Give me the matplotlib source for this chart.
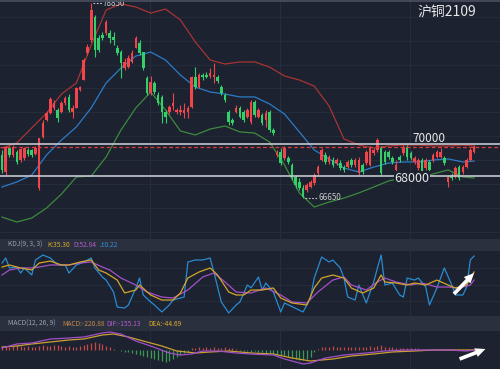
import numpy as np
import matplotlib
matplotlib.use('Agg')
from matplotlib import pyplot as plt

plt.rcParams['font.family'] = ['Noto Sans CJK SC', 'DejaVu Sans']

# ---- candles (沪铜2109) ----
opens = [69340, 68270, 69770, 69340, 69520, 69020, 69150, 69650, 69650, 69400,
         67270, 70460, 71530, 71960, 72280, 72150, 72030, 72590, 72970, 72030,
         72280, 73400, 74030, 75720, 76530, 77970, 76660, 76850, 76970, 76970,
         76720, 76030, 75780, 74780, 74840, 75160, 76030, 76350, 75780, 74160,
         73220, 73840, 73090, 72970, 72030, 72030, 72400, 72030, 72030, 71960,
         72030, 72340, 74220, 73590, 74340, 74340, 74280, 74220, 74220, 73590,
         73090, 72030, 71530, 72030, 72280, 72030, 71710, 71400, 72650, 71710,
         71840, 71530, 72030, 70900, 69340, 69520, 69150, 69150, 68710, 67960,
         67650, 67270, 67140, 67330, 67580, 68210, 69020, 69340, 68900, 69020,
         68830, 68830, 68580, 68580, 69020, 68710, 68210, 68710, 68830, 68710,
         69460, 69650, 69770, 69520, 69520, 69150, 68400, 69210, 69460, 69840,
         69460, 68900, 68520, 69020, 68520, 68900, 69020, 69210, 69210, 69150,
         67650, 68080, 67960, 68580, 68270, 68580, 69020, 69520]
highs = [69650, 69900, 69900, 69960, 69650, 69770, 69840, 69770, 69710, 69900,
         70400, 71530, 72090, 72970, 72780, 72280, 72720, 73030, 73150, 72470,
         73590, 73650, 75410, 76280, 78850, 78100, 76850, 77030, 77790, 77160,
         77030, 76220, 75910, 75410, 75600, 75910, 76780, 76530, 75780, 74280,
         74280, 73970, 73280, 73090, 72150, 72470, 73220, 72280, 72470, 72590,
         72400, 74280, 74840, 74470, 74470, 74530, 74780, 75090, 74340, 73720,
         73220, 72150, 71650, 72470, 72400, 72150, 72280, 72780, 72780, 72280,
         71960, 72150, 72150, 71030, 69650, 69770, 69900, 69270, 68830, 68080,
         67900, 67460, 67580, 67770, 68210, 68710, 69770, 69520, 69340, 69210,
         69150, 69020, 68710, 69020, 69150, 69150, 69210, 68830, 69650, 69900,
         69770, 70400, 69900, 69650, 69650, 69270, 69020, 69340, 69960, 69960,
         69590, 69270, 69150, 69150, 69150, 69020, 69460, 69650, 69770, 69270,
         68080, 68210, 68650, 68710, 68710, 69150, 69770, 69960]
lows = [68210, 68080, 69210, 69210, 68770, 68900, 69020, 69270, 69210, 69340,
        67140, 70400, 71460, 71900, 72150, 71400, 71960, 72470, 72030, 71650,
        72280, 73340, 74030, 75600, 76410, 75470, 75780, 76530, 76850, 76350,
        76220, 75600, 74160, 74660, 74780, 75090, 76030, 75600, 74660, 73090,
        73090, 73150, 72470, 71340, 71340, 71900, 72150, 71900, 71840, 71650,
        71650, 72280, 73470, 73530, 74030, 74160, 74160, 73840, 73840, 73090,
        72650, 71210, 71210, 71960, 71650, 71400, 71650, 71280, 71710, 71650,
        71210, 71090, 70780, 70590, 69210, 68710, 69020, 68770, 67770, 67270,
        67140, 66650, 67020, 67270, 67460, 68080, 68960, 68770, 68770, 68580,
        68710, 68400, 68270, 68520, 68580, 68580, 68080, 68150, 68710, 68650,
        69340, 69520, 68080, 68770, 69080, 68770, 68270, 68900, 69340, 69020,
        69020, 68770, 68400, 68150, 68400, 68270, 68900, 69150, 69150, 68710,
        67330, 67770, 67900, 67770, 68150, 68520, 68960, 69460]
closes = [68400, 69840, 69340, 69840, 68900, 69710, 69770, 69400, 69340, 69770,
          70400, 71340, 71960, 72840, 72590, 71650, 72590, 72900, 72150, 72280,
          73530, 73590, 75280, 76100, 78410, 75910, 75910, 76660, 77660, 76660,
          76530, 75720, 75090, 75160, 75410, 75720, 76660, 75720, 74780, 73220,
          73900, 73280, 72590, 72030, 71710, 72340, 72590, 72150, 72150, 72150,
          72280, 74220, 73590, 74340, 74220, 74220, 74470, 74340, 73970, 73220,
          72780, 71400, 71340, 72280, 71710, 71530, 72150, 72650, 71840, 72150,
          71340, 71960, 70900, 70710, 69460, 68830, 69770, 68900, 67900, 67460,
          67270, 66710, 67460, 67650, 68080, 68580, 69650, 68900, 69210, 68710,
          69020, 68520, 68400, 68900, 68710, 69020, 69020, 68270, 69520, 69770,
          69650, 70270, 68210, 68900, 69210, 68900, 68710, 69020, 69840, 69210,
          69150, 69150, 69020, 68270, 69020, 68400, 69340, 69520, 69520, 68830,
          67960, 67900, 68520, 67900, 68580, 69020, 69650, 69840]

# ---- bollinger bands, read every 4 bars ----
boll_bar = [0, 4, 8, 12, 16, 20, 24, 28, 32, 36, 40, 44, 48, 52, 56, 60, 64,
            68, 72, 76, 80, 84, 88, 92, 96, 100, 104, 108, 112, 116, 120, 124, 127]
boll_up = [69770, 70090, 71030, 71960, 73150, 73840, 76220, 78410, 78790, 78600,
           78220, 78470, 77790, 76410, 75280, 75030, 75160, 75160, 74840, 74280,
           74030, 73650, 72400, 70340, 69960, 69770, 69900, 69960, 69960, 69900,
           69900, 69960, 69900]
boll_mid = [67330, 67650, 68080, 69340, 70270, 71090, 72280, 73840, 74780, 75530,
            75780, 75280, 74340, 73590, 73280, 73150, 72970, 72970, 72530, 71900,
            70780, 69650, 69090, 68520, 68270, 68580, 68830, 68900, 68900, 69020,
            69090, 68900, 68960]
boll_dn = [65450, 65140, 65390, 66020, 66890, 67960, 68020, 69210, 70900, 72280,
           73280, 72150, 70840, 70590, 70960, 71150, 70780, 70710, 70150, 68710,
           66960, 66080, 66390, 66640, 66960, 67330, 67710, 67900, 67900, 68150,
           68400, 67960, 67900]

levels = [70000, 68000]

# ---- KDJ(9,3,3) ----
k_bar = [0, 2, 5, 8, 10, 13, 16, 18, 21, 24, 26, 28, 31, 33, 36, 37, 40, 43, 46, 48,
         50, 53, 56, 58, 61, 63, 65, 67, 70, 73, 75, 78, 82, 84, 86, 89, 92, 94, 97,
         100, 102, 103, 106, 109, 111, 114, 117, 120, 122, 125, 127]
k_val = [81.3, 84.9, 79.6, 76, 88.5, 92, 84.9, 84.9, 90.3, 93.9, 76, 70.6, 58, 34.8,
         40.2, 49.1, 31.2, 22.2, 22.2, 34.8, 61.6, 72.4, 79.6, 67, 36.6, 31.2, 31.2,
         40, 40.2, 43.7, 25.8, 16.9, 13.3, 43.7, 61.6, 67, 61.6, 43.7, 34.8, 43.7, 67,
         54.5, 52.7, 49.1, 52.7, 49.1, 58, 49.1, 43.7, 49.1, 72.4]
d_bar = [0, 2, 5, 8, 10, 13, 16, 18, 21, 24, 27, 29, 32, 36, 39, 43, 46, 50, 54, 57,
         60, 63, 67, 71, 75, 78, 82, 85, 89, 92, 94, 98, 101, 103, 106, 110, 113, 117,
         120, 123, 126, 127]
d_val = [67, 76, 79.6, 79.6, 81.3, 84.9, 84.9, 84.9, 88.5, 90.3, 81.3, 76, 61.6, 49.1,
         36.6, 27.6, 25.8, 40.2, 63.4, 70.6, 54.5, 36.6, 34.8, 43.7, 31.2, 18.7, 16.9,
         36.6, 58, 63.4, 49.1, 40.2, 54.5, 61.6, 54.5, 49.1, 52.7, 45.5, 45.5, 43.7,
         49.1, 58]
j_bar = [0, 1, 2, 4, 5, 6, 8, 9, 11, 13, 15, 17, 18, 20, 22, 24, 25, 27, 28, 30, 31,
         33, 34, 36, 37, 38, 40, 41, 43, 45, 46, 49, 50, 52, 54, 56, 57, 59, 61, 63,
         64, 66, 67, 69, 70, 71, 73, 75, 76, 81, 83, 84, 86, 88, 89, 91, 92, 93, 95,
         96, 98, 100, 101, 102, 103, 105, 107, 108, 109, 111, 112, 114, 115, 117, 119,
         121, 122, 124, 125, 126, 127]
j_val = [88.5, 97.5, 79.6, 81.3, 70.6, 79.6, 67, 93.9, 102.8, 97.5, 84.9, 84.9, 70.6,
         84.9, 90.3, 97.5, 79.6, 63.4, 58, 36.6, 9.7, 7.9, 13.3, 43.7, 61.6, 31.2, 18.7,
         13.3, 0.8, 13.3, 22.2, 27.6, 90.3, 93.9, 93.9, 97.5, 72.4, 18.7, -1.0, 13.3,
         18.7, 49.1, 44, 63.4, 40.2, 52.7, 36.6, 0.8, 16.9, 0.8, 25.8, 61.6, 99.3, 90.3,
         93.9, 79.6, 61.6, 27.6, 22.2, 49.1, 16.9, 54.5, 79.6, 102.8, 49.1, 52.7, 31.2,
         27.6, 61.6, 58, 61.6, 45.5, 13.3, 43.7, 79.6, 49.1, 31.2, 31.2, 45.5, 93.9, 101]

# ---- MACD(12,26,9) ----
dif_bar = [0, 4, 8, 13, 18, 22, 27, 29, 32, 36, 40, 45, 48, 51, 54, 58, 63, 67, 73,
           76, 81, 83, 87, 92, 98, 103, 109, 114, 120, 125, 127]
dif_val = [40, 120, 140, 220, 240, 260, 340, 360, 320, 180, 80, -60, -100, -80, -20,
           -20, -60, -80, -100, -180, -280, -260, -160, -100, -60, -20, 0, 0, 0, -20, 0]
dea_bar = [0, 4, 8, 13, 18, 22, 27, 30, 34, 38, 43, 47, 52, 56, 61, 67, 73, 78, 83,
           89, 94, 100, 105, 111, 116, 121, 127]
dea_val = [60, 80, 120, 160, 200, 220, 300, 320, 260, 180, 80, -20, -60, -40, -20,
           -60, -80, -160, -220, -180, -120, -80, -40, -20, 0, 0, 0]
macd_hist = [60, 80, 60, 80, 100, 80, 60, 80, 60, 60, 80, 100, 80, 80, 100, 100, 80, 60,
             80, 60, 60, 80, 100, 120, 140, 160, 140, 120, 80, 60,
             20, 10,
             -20, -40, -40, -60, -80, -100, -120, -140, -160, -180, -200, -220, -240,
             -220, -180, -140, -100, -60, -40,
             40, 40, 60, 40, 60, 40, 60, 40, 40, 60, 40, 40, 20,
             -20, -20, -20, -40, -20,
             -40, -40, -60, -60, -80, -100, -100, -120, -140, -160, -180, -200, -200,
             -180, -140, -40,
             20, 60, 60, 60, 80, 60, 60, 60, 60, 60, 60, 60, 60, 60, 80, 60, 80, 100,
             60, 60, 60, 40, 40, 40, 40, 40, 40, 40,
             20, 20, 20, 20, 20, 20, 20, 20, 20, 20, 20, 20, 20, 20, 40]

BG = '#1c2230'
STRIP = '#2a303d'
GRID = '#262d3b'
RED = '#f0454a'
GREEN = '#35cf6a'

fig = plt.figure(figsize=(5, 3.69), dpi=100, facecolor=BG)
H = 369.0
ax = fig.add_axes([0, (H - 239) / H, 1, 239 / H], facecolor=BG)
hk = fig.add_axes([0, (H - 251) / H, 1, 12 / H], facecolor=STRIP)
axk = fig.add_axes([0, (H - 316) / H, 1, 65 / H], facecolor=BG)
hm = fig.add_axes([0, (H - 331) / H, 1, 15 / H], facecolor=STRIP)
axm = fig.add_axes([0, 0, 1, 38 / H], facecolor=BG)

n = len(closes)
x = np.arange(n)
xlim = (-0.54, 133.98)
vgrid = [39.8, 74.8, 109.8]

for a in (ax, axk, axm, hk, hm):
    a.set_xlim(*xlim)
    a.set_xticks([])
    a.set_yticks([])
    for s in a.spines.values():
        s.set_visible(False)
for a in (ax, axk, axm):
    for g in vgrid:
        a.axvline(g, color=GRID, lw=0.8, zorder=0)

# main panel
ax.set_ylim(64077, 79038)
for yy in np.arange(64500, 79000, 1500):
    ax.axhline(yy, color=GRID, lw=0.6, zorder=0)

o = np.array(opens); c = np.array(closes)
hi = np.array(highs); lo = np.array(lows)
up = c >= o
cols = np.where(up, RED, GREEN)
ax.vlines(x, lo, hi, colors=cols, lw=0.8, zorder=3)
body = np.maximum(np.abs(c - o), 50)
ax.bar(x, body, bottom=np.minimum(o, c), width=0.7, color=cols, zorder=4, linewidth=0)

ax.plot(boll_bar, boll_up, color='#a83434', lw=0.9, zorder=2)
ax.plot(boll_bar, boll_mid, color='#2b7cc8', lw=0.9, zorder=2)
ax.plot(boll_bar, boll_dn, color='#3d8a3d', lw=0.9, zorder=2)

for lv in levels:
    ax.axhline(lv, color='#c4c7ce', lw=1.2, zorder=5)
ax.annotate(f'{levels[0]}', (110.3, levels[0]), xytext=(0, 4), textcoords='offset points',
            color='#e8e8e8', fontsize=8.5, va='center', ha='left', zorder=6)
ax.annotate(f'{levels[1]}', (105.5, levels[1]), xytext=(0, -1.5), textcoords='offset points',
            color='#e8e8e8', fontsize=9, va='center', ha='left', zorder=6,
            bbox=dict(boxstyle='square,pad=0.05', fc=BG, ec='none'))
ax.axhline(closes[-1], color='#d83c3c', lw=0.9, ls=(0, (3, 2)), zorder=5)

ih = int(np.argmax(hi))
ax.plot([ih + 0.4, ih + 3.0], [hi[ih]] * 2, color='#c8c8c8', lw=0.8, ls=(0, (1.5, 1.5)))
ax.text(ih + 3.2, hi[ih], f'{hi[ih]}', color='#c8c8c8', fontsize=5.8, va='center')
il = int(np.argmin(lo))
ax.plot([il + 0.4, il + 4.0], [lo[il]] * 2, color='#c8c8c8', lw=0.8, ls=(0, (1.5, 1.5)))
ax.text(il + 4.2, lo[il], f'{lo[il]}', color='#c8c8c8', fontsize=5.8, va='center')

fig.text(0.894, 0.965, '沪铜2109', color='#e6e6e6', fontsize=10, ha='center', va='center')
fig.add_artist(plt.Line2D([0, 1], [0.998, 0.998], color='#4a5060', lw=1.2))

# KDJ panel
axk.set_ylim(-6.4, 110)
for yy in (20, 50, 80):
    axk.axhline(yy, color=GRID, lw=0.6, zorder=0)
axk.plot(j_bar, j_val, color='#2a8bd0', lw=0.9)
axk.plot(d_bar, d_val, color='#a550c8', lw=0.9)
axk.plot(k_bar, k_val, color='#d4a52a', lw=0.9)

ky = 1 - 245 / H
for s, xp, col in [('KDJ(9, 3, 3)', 8, '#9aa3b3'), ('K:35.30', 47, '#d9a92c'),
                   ('D:52.84', 73, '#b45ad0'), ('J:0.22', 100, '#2d8fd5')]:
    fig.text(xp / 500, ky, s, color=col, fontsize=4.8, va='center')

# MACD panel
axm.set_ylim(-380, 380)
hc = np.where(np.array(macd_hist) >= 0, '#c44a4a', '#3c9a55')
axm.vlines(x, 0, macd_hist, colors=hc, lw=0.9)
axm.plot(dea_bar, dea_val, color='#c9a130', lw=0.9)
axm.plot(dif_bar, dif_val, color='#a24fc9', lw=0.9)

my = 1 - 324 / H
for s, xp, col in [('MACD(12, 26, 9)', 8, '#9aa3b3'), ('MACD:-220.88', 62, '#c8884a'),
                   ('DIF:-155.13', 106, '#b45ad0'), ('DEA:-44.69', 148, '#d9a92c')]:
    fig.text(xp / 500, my, s, color=col, fontsize=4.8, va='center')

# arrows
arr = dict(arrowstyle='simple,head_width=0.55,head_length=0.6,tail_width=0.22',
           color='white', lw=0)
fig.add_artist(matplotlib.patches.FancyArrowPatch((452 / 500, 1 - 296 / H), (476 / 500, 1 - 271 / H),
               transform=fig.transFigure, mutation_scale=12, **arr))
fig.add_artist(matplotlib.patches.FancyArrowPatch((457 / 500, 1 - 360 / H), (488 / 500, 1 - 348 / H),
               transform=fig.transFigure, mutation_scale=12, **arr))

fig.savefig('out.png', dpi=100, facecolor=BG)
